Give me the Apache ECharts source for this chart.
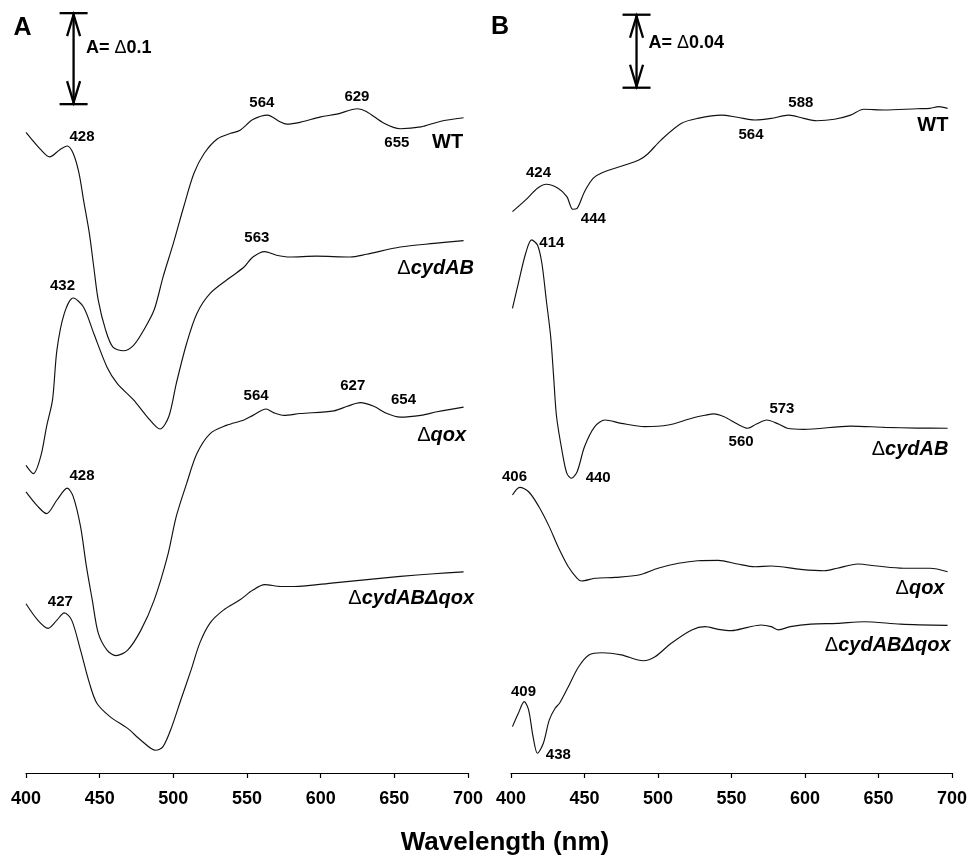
<!DOCTYPE html>
<html>
<head>
<meta charset="utf-8">
<script src="https://cdn.jsdelivr.net/npm/echarts@6/dist/echarts.min.js"></script>
<style>
  html, body { margin: 0; padding: 0; background: #ffffff; }
  #chart { width: 970px; height: 860px; }
</style>
</head>
<body>
<div id="chart"></div>
<script>
// ---------------- DATA ----------------
// x: wavelength (nm); y: absorbance (curves vertically offset as in the figure)
const wavelengthTicks = [400, 450, 500, 550, 600, 650, 700];
const strains = ['WT', 'ΔcydAB', 'Δqox', 'ΔcydABΔqox'];

// Panel A (scale bar A = Δ0.1)
const aWT = [[400,0.704],[410,0.685],[416,0.677],[423,0.685],[428,0.689],[432,0.681],[436,0.659],[439,0.630],[443,0.593],[446,0.556],[449,0.520],[454,0.487],[459,0.468],[466,0.464],[473,0.470],[480,0.487],[487,0.509],[493,0.545],[500,0.582],[507,0.622],[514,0.659],[521,0.681],[530,0.697],[539,0.703],[545,0.706],[554,0.718],[564,0.723],[572,0.716],[577,0.713],[586,0.715],[600,0.721],[611,0.724],[625,0.730],[631,0.727],[643,0.714],[654,0.708],[668,0.710],[681,0.716],[697,0.720]];
const aCydAB = [[400,0.338],[405,0.329],[410,0.348],[414,0.381],[418,0.410],[421,0.465],[426,0.505],[432,0.522],[439,0.512],[446,0.483],[455,0.446],[462,0.428],[473,0.410],[482,0.392],[491,0.378],[497,0.392],[502,0.428],[509,0.472],[516,0.505],[525,0.527],[539,0.545],[548,0.556],[554,0.567],[562,0.573],[570,0.569],[579,0.567],[597,0.568],[620,0.567],[631,0.570],[654,0.578],[677,0.582],[697,0.585]];
const aQox = [[400,0.309],[408,0.293],[414,0.285],[421,0.300],[428,0.313],[432,0.304],[437,0.271],[441,0.227],[445,0.190],[449,0.154],[455,0.135],[461,0.129],[469,0.135],[478,0.157],[487,0.190],[496,0.238],[502,0.282],[509,0.318],[516,0.351],[525,0.373],[536,0.382],[548,0.388],[554,0.393],[563,0.400],[568,0.396],[575,0.393],[586,0.395],[609,0.398],[618,0.403],[627,0.407],[636,0.403],[645,0.395],[654,0.391],[668,0.393],[679,0.397],[697,0.402]];
const aCydABQox = [[400,0.186],[408,0.168],[415,0.159],[421,0.168],[426,0.176],[431,0.168],[437,0.135],[443,0.099],[448,0.077],[457,0.062],[469,0.049],[478,0.036],[488,0.025],[493,0.029],[499,0.051],[505,0.080],[512,0.113],[518,0.143],[525,0.165],[534,0.179],[545,0.190],[554,0.201],[562,0.207],[573,0.205],[582,0.205],[609,0.209],[654,0.216],[677,0.219],[697,0.221]];

// Panel B (scale bar A = Δ0.04)
const bWT = [[401,0.3076],[410,0.3140],[418,0.3204],[424,0.3226],[432,0.3204],[438,0.3158],[442,0.3089],[445,0.3094],[450,0.3185],[456,0.3259],[462,0.3289],[477,0.3330],[487,0.3359],[493,0.3392],[502,0.3468],[516,0.3560],[527,0.3587],[543,0.3605],[554,0.3593],[566,0.3578],[577,0.3587],[589,0.3605],[599,0.3587],[608,0.3574],[620,0.3582],[631,0.3605],[640,0.3637],[654,0.3633],[676,0.3640],[685,0.3642],[691,0.3651],[697,0.3642]];
const bCydAB = [[401,0.2546],[405,0.2683],[410,0.2848],[414,0.2921],[418,0.2893],[421,0.2793],[424,0.2592],[427,0.2391],[429,0.2172],[431,0.1952],[435,0.1752],[438,0.1642],[441,0.1615],[445,0.1651],[450,0.1788],[457,0.1898],[464,0.1934],[475,0.1916],[491,0.1898],[507,0.1907],[523,0.1944],[532,0.1960],[538,0.1968],[545,0.1952],[554,0.1912],[561,0.1889],[567,0.1912],[574,0.1934],[582,0.1912],[588,0.1889],[599,0.1883],[631,0.1901],[654,0.1894],[676,0.1890],[697,0.1889]];
const bQox = [[401,0.1523],[406,0.1565],[412,0.1541],[419,0.1459],[426,0.1350],[432,0.1240],[439,0.1130],[445,0.1067],[448,0.1052],[457,0.1067],[471,0.1072],[487,0.1085],[500,0.1122],[514,0.1149],[527,0.1163],[541,0.1165],[554,0.1145],[566,0.1130],[577,0.1134],[597,0.1116],[613,0.1108],[622,0.1122],[636,0.1145],[649,0.1134],[667,0.1122],[685,0.1122],[697,0.1103]];
const bCydABQox = [[401,0.0254],[405,0.0327],[409,0.0391],[412,0.0345],[415,0.0199],[418,0.0108],[422,0.0163],[426,0.0290],[430,0.0355],[433,0.0382],[439,0.0473],[446,0.0582],[453,0.0647],[462,0.0659],[475,0.0647],[490,0.0615],[498,0.0637],[509,0.0711],[523,0.0784],[532,0.0802],[541,0.0787],[550,0.0780],[561,0.0798],[570,0.0811],[577,0.0802],[582,0.0784],[590,0.0802],[604,0.0816],[622,0.0820],[640,0.0829],[665,0.0816],[697,0.0809]];

// Peak wavelength annotations (text per curve)
const aPeaks = [['428','564','629','655'], ['563','432'], ['564','627','654','428'], ['427']];
const bPeaks = [['424','444','564','588'], ['414','440','560','573'], ['406'], ['409','438']];

// Scale bars: [wavelength, absorbance bottom, absorbance span]
const aScale = [432.3, 0.735, 0.1];
const bScale = [485.4, 0.3755, 0.04];

// ---------------- LAYOUT (annotation anchors in data coordinates) ----------------
const aPeakAnchors = [[[438,0.699],[560.1,0.736],[624.6,0.743],[651.7,0.693]], [[556.7,0.588],[424.8,0.535]], [[556.2,0.414],[621.8,0.425],[656.2,0.410],[438,0.326]], [[423.3,0.188]]];
const bPeakAnchors = [[[418.7,0.3286],[456,0.3039],[563.3,0.3496],[597.2,0.3670]], [[427.8,0.2906],[459.3,0.1615],[556.5,0.1815],[584.3,0.1998]], [[402.4,0.1620]], [[408.5,0.0445],[432.2,0.0099]]];
const aNameAnchors = [[696.7,0.6926],[704.1,0.5546],[698.7,0.3714],[704.1,0.192]];
const bNameAnchors = [[697.6,0.3547],[697.6,0.1770],[694.9,0.1012],[699.0,0.0698]];

// ---------------- CHART ----------------
const FONT = '"Liberation Sans", Arial, Helvetica, sans-serif';
const INK = '#000000';

function curve(idx, data) {
  return { type: 'line', xAxisIndex: idx, yAxisIndex: idx, data: data,
    smooth: 0.3, symbol: 'none', silent: true,
    lineStyle: { color: '#111111', width: 1.15 } };
}
function peakLabels(idx, peaks, anchors) {
  const data = [];
  peaks.forEach((list, i) => list.forEach((t, j) => data.push({ name: t, value: anchors[i][j] })));
  return { type: 'scatter', xAxisIndex: idx, yAxisIndex: idx, symbolSize: 0, silent: true, clip: false,
    itemStyle: { opacity: 1 },
    data: data,
    label: { show: true, position: 'inside', formatter: p => p.name, opacity: 1,
      fontFamily: FONT, fontSize: 15, fontWeight: 'bold', color: INK } };
}
function richName(s) {
  if (s.indexOf('Δ') < 0) return '{b|' + s + '}';
  return s.split('Δ').filter(Boolean).map((p, i) => (i === 0 ? '{d|Δ}' : '{di|Δ}') + '{i|' + p + '}').join('');
}
function nameLabels(idx, anchors) {
  return { type: 'scatter', xAxisIndex: idx, yAxisIndex: idx, symbolSize: 0, silent: true, clip: false,
    itemStyle: { opacity: 1 },
    data: strains.map((s, i) => ({ name: richName(s), value: anchors[i] })),
    label: { show: true, position: 'left', distance: 0, formatter: p => p.name, color: INK, opacity: 1,
      rich: {
        b: { fontFamily: FONT, fontSize: 20, fontWeight: 'bold', color: INK },
        d: { fontFamily: FONT, fontSize: 20, fontWeight: 'normal', color: INK },
        di: { fontFamily: FONT, fontSize: 20, fontWeight: 'bold', fontStyle: 'italic', color: INK },
        i: { fontFamily: FONT, fontSize: 20, fontWeight: 'bold', fontStyle: 'italic', color: INK }
      } } };
}
function scaleBar(idx, bar) {
  return { type: 'custom', xAxisIndex: idx, yAxisIndex: idx, silent: true, clip: false,
    data: [bar],
    renderItem: function (params, api) {
      const x = api.value(0), y0 = api.value(1), span = api.value(2);
      const bot = api.coord([x, y0]);
      const top = api.coord([x, y0 + span]);
      const cx = bot[0];
      const st = { stroke: INK, lineWidth: 2.3, fill: null };
      const cap = 14, aw = 6.5, al = 23;
      return { type: 'group', children: [
        { type: 'line', shape: { x1: cx, y1: top[1], x2: cx, y2: bot[1] }, style: st },
        { type: 'line', shape: { x1: cx - cap, y1: top[1], x2: cx + cap, y2: top[1] }, style: st },
        { type: 'line', shape: { x1: cx - cap, y1: bot[1], x2: cx + cap, y2: bot[1] }, style: st },
        { type: 'polyline', shape: { points: [[cx - aw, top[1] + al], [cx, top[1] + 1.5], [cx + aw, top[1] + al]] }, style: st },
        { type: 'polyline', shape: { points: [[cx - aw, bot[1] - al], [cx, bot[1] - 1.5], [cx + aw, bot[1] - al]] }, style: st }
      ] };
    } };
}
function xAxis(idx) {
  return { type: 'value', gridIndex: idx,
    min: wavelengthTicks[0], max: wavelengthTicks[wavelengthTicks.length - 1],
    interval: wavelengthTicks[1] - wavelengthTicks[0],
    splitLine: { show: false },
    axisLine: { show: true, onZero: false, lineStyle: { color: INK, width: 1.2 } },
    axisTick: { show: true, inside: false, length: 5, lineStyle: { color: INK, width: 1.2 } },
    axisLabel: { show: true, margin: 17, fontFamily: FONT, fontSize: 18, fontWeight: 'bold', color: INK,
      showMinLabel: true, showMaxLabel: true } };
}

const chart = echarts.init(document.getElementById('chart'), null, { renderer: 'canvas' });
chart.setOption({
  animation: false,
  backgroundColor: '#ffffff',
  grid: [
    { left: 26, top: 0, width: 442, height: 773 },
    { left: 511, top: 0, width: 442, height: 773 }
  ],
  xAxis: [xAxis(0), xAxis(1)],
  yAxis: [
    { type: 'value', gridIndex: 0, min: 0, max: 773 / 910, show: false, splitLine: { show: false } },
    { type: 'value', gridIndex: 1, min: 0, max: 773 / 1825, show: false, splitLine: { show: false } }
  ],
  series: [
    curve(0, aWT), curve(0, aCydAB), curve(0, aQox), curve(0, aCydABQox),
    curve(1, bWT), curve(1, bCydAB), curve(1, bQox), curve(1, bCydABQox),
    peakLabels(0, aPeaks, aPeakAnchors), peakLabels(1, bPeaks, bPeakAnchors),
    nameLabels(0, aNameAnchors), nameLabels(1, bNameAnchors),
    scaleBar(0, aScale), scaleBar(1, bScale)
  ],
  graphic: [
    { type: 'text', x: 22.5, y: 28.5, style: { text: 'A', textAlign: 'center', textVerticalAlign: 'middle',
      font: 'bold 25px ' + FONT, fill: INK } },
    { type: 'text', x: 500, y: 27, style: { text: 'B', textAlign: 'center', textVerticalAlign: 'middle',
      font: 'bold 25px ' + FONT, fill: INK } },
    { type: 'text', x: 86, y: 48.5, style: { text: '{b|A= }{d|Δ}{b|0.1}', textAlign: 'left', textVerticalAlign: 'middle',
      rich: { b: { font: 'bold 18px ' + FONT, fill: INK }, d: { font: 'normal 18px ' + FONT, fill: INK } } } },
    { type: 'text', x: 648.5, y: 43, style: { text: '{b|A= }{d|Δ}{b|0.04}', textAlign: 'left', textVerticalAlign: 'middle',
      rich: { b: { font: 'bold 18px ' + FONT, fill: INK }, d: { font: 'normal 18px ' + FONT, fill: INK } } } },
    { type: 'text', x: 505, y: 843, style: { text: 'Wavelength (nm)', textAlign: 'center', textVerticalAlign: 'middle',
      font: 'bold 26px ' + FONT, fill: INK } }
  ]
});
</script>
</body>
</html>
